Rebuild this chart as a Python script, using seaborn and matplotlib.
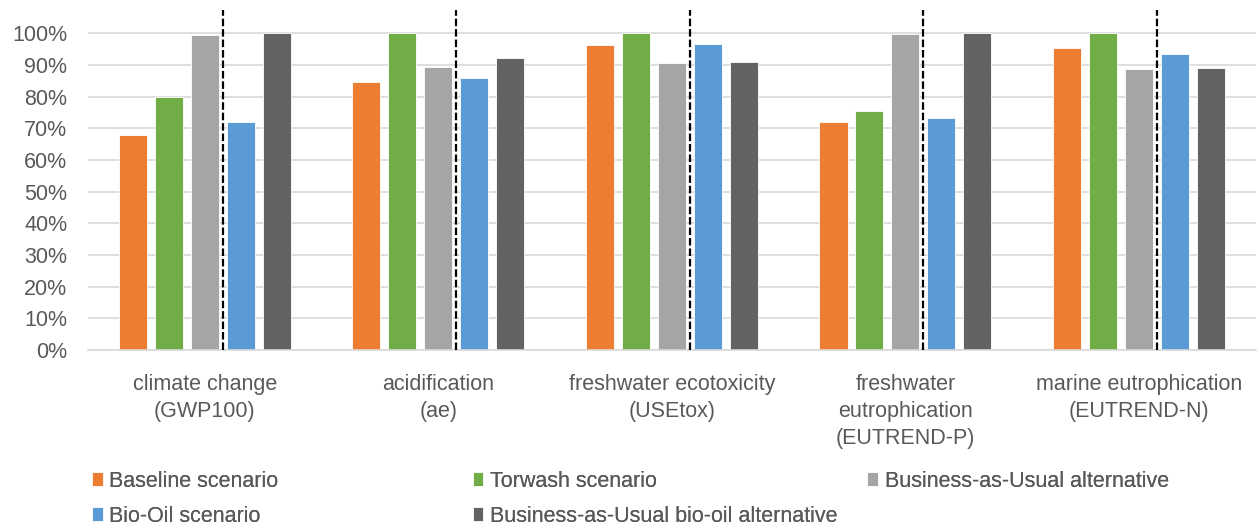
import pandas as pd
import matplotlib
matplotlib.use("Agg")
import matplotlib.pyplot as plt
import seaborn as sns

# categories and scenarios
categories = [
    "climate change\n(GWP100)",
    "acidification\n(ae)",
    "freshwater ecotoxicity\n(USEtox)",
    "freshwater\neutrophication\n(EUTREND-P)",
    "marine eutrophication\n(EUTREND-N)",
]
scenarios = [
    "Baseline scenario",
    "Torwash scenario",
    "Business-as-Usual alternative",
    "Bio-Oil scenario",
    "Business-as-Usual bio-oil alternative",
]

# values (share of the max per category)
baseline = [0.678, 0.845, 0.962, 0.721, 0.955]
torwash = [0.798, 1.000, 1.000, 0.756, 1.000]
bau_alt = [0.996, 0.894, 0.906, 0.999, 0.889]
bio_oil = [0.719, 0.860, 0.966, 0.734, 0.934]
bau_bio_oil = [1.000, 0.923, 0.910, 1.000, 0.891]

colors = ["#ED7D31", "#70AD47", "#A5A5A5", "#5B9BD5", "#636363"]

rows = []
for scen, vals in zip(scenarios, [baseline, torwash, bau_alt, bio_oil, bau_bio_oil]):
    for cat, v in zip(categories, vals):
        rows.append({"category": cat, "scenario": scen, "value": v})
df = pd.DataFrame(rows)

sns.set_style("white")
plt.rcParams["font.family"] = ["Liberation Sans", "DejaVu Sans"]
text_color = "#595959"

fig = plt.figure(figsize=(12.57, 5.27), dpi=100)
ax = fig.add_axes([0.070, 0.336, 0.929, 0.645])

sns.barplot(data=df, x="category", y="value", hue="scenario",
            order=categories, hue_order=scenarios, palette=colors,
            saturation=1, width=0.77, gap=0.22, ax=ax,
            edgecolor="white", linewidth=0.6)

handles, labels = ax.get_legend_handles_labels()
ax.get_legend().remove()

ax.set_ylim(0, 1.074)
ax.set_xlim(-0.5, len(categories) - 0.5)
ax.set_yticks([i / 10 for i in range(11)])
ax.set_yticklabels([f"{i * 10}%" for i in range(11)])
ax.yaxis.grid(True, color="#D9D9D9", linewidth=1.2)
ax.set_axisbelow(True)
for s in ["top", "right", "left"]:
    ax.spines[s].set_visible(False)
ax.spines["bottom"].set_color("#D9D9D9")
ax.spines["bottom"].set_linewidth(1.2)
ax.set_xlabel("")
ax.set_ylabel("")
ax.tick_params(axis="y", length=0, pad=15, labelsize=15.5, labelcolor=text_color)
ax.tick_params(axis="x", length=0, pad=17, labelsize=15.5, labelcolor=text_color)
for t in ax.get_xticklabels():
    t.set_linespacing(1.4)
    t.set_verticalalignment("top")

# dashed separators between the gray and the blue bar of every group
gray_bars = ax.containers[2]
blue_bars = ax.containers[3]
for g, b in zip(gray_bars.patches, blue_bars.patches):
    xm = (g.get_x() + g.get_width() + b.get_x()) / 2
    ax.axvline(xm, ymin=0, ymax=1, color="black", linewidth=1.6,
               linestyle=(0, (3.4, 1.3)), zorder=5)

# legend laid out row-wise like the original, one small legend per column
leg_kw = dict(frameon=False, fontsize=15.5, handlelength=0.5, handleheight=0.6,
              handletextpad=0.3, labelspacing=0.65, labelcolor=text_color,
              borderaxespad=0, borderpad=0)
columns = [[0, 3], [1, 4], [2]]
col_x = [0.073, 0.376, 0.690]
for idx, x0 in zip(columns, col_x):
    leg = fig.legend([handles[i] for i in idx], [labels[i] for i in idx],
                     loc="upper left", bbox_to_anchor=(x0, 0.107), **leg_kw)
    fig.add_artist(leg)

fig.savefig("out.png", dpi=100)
